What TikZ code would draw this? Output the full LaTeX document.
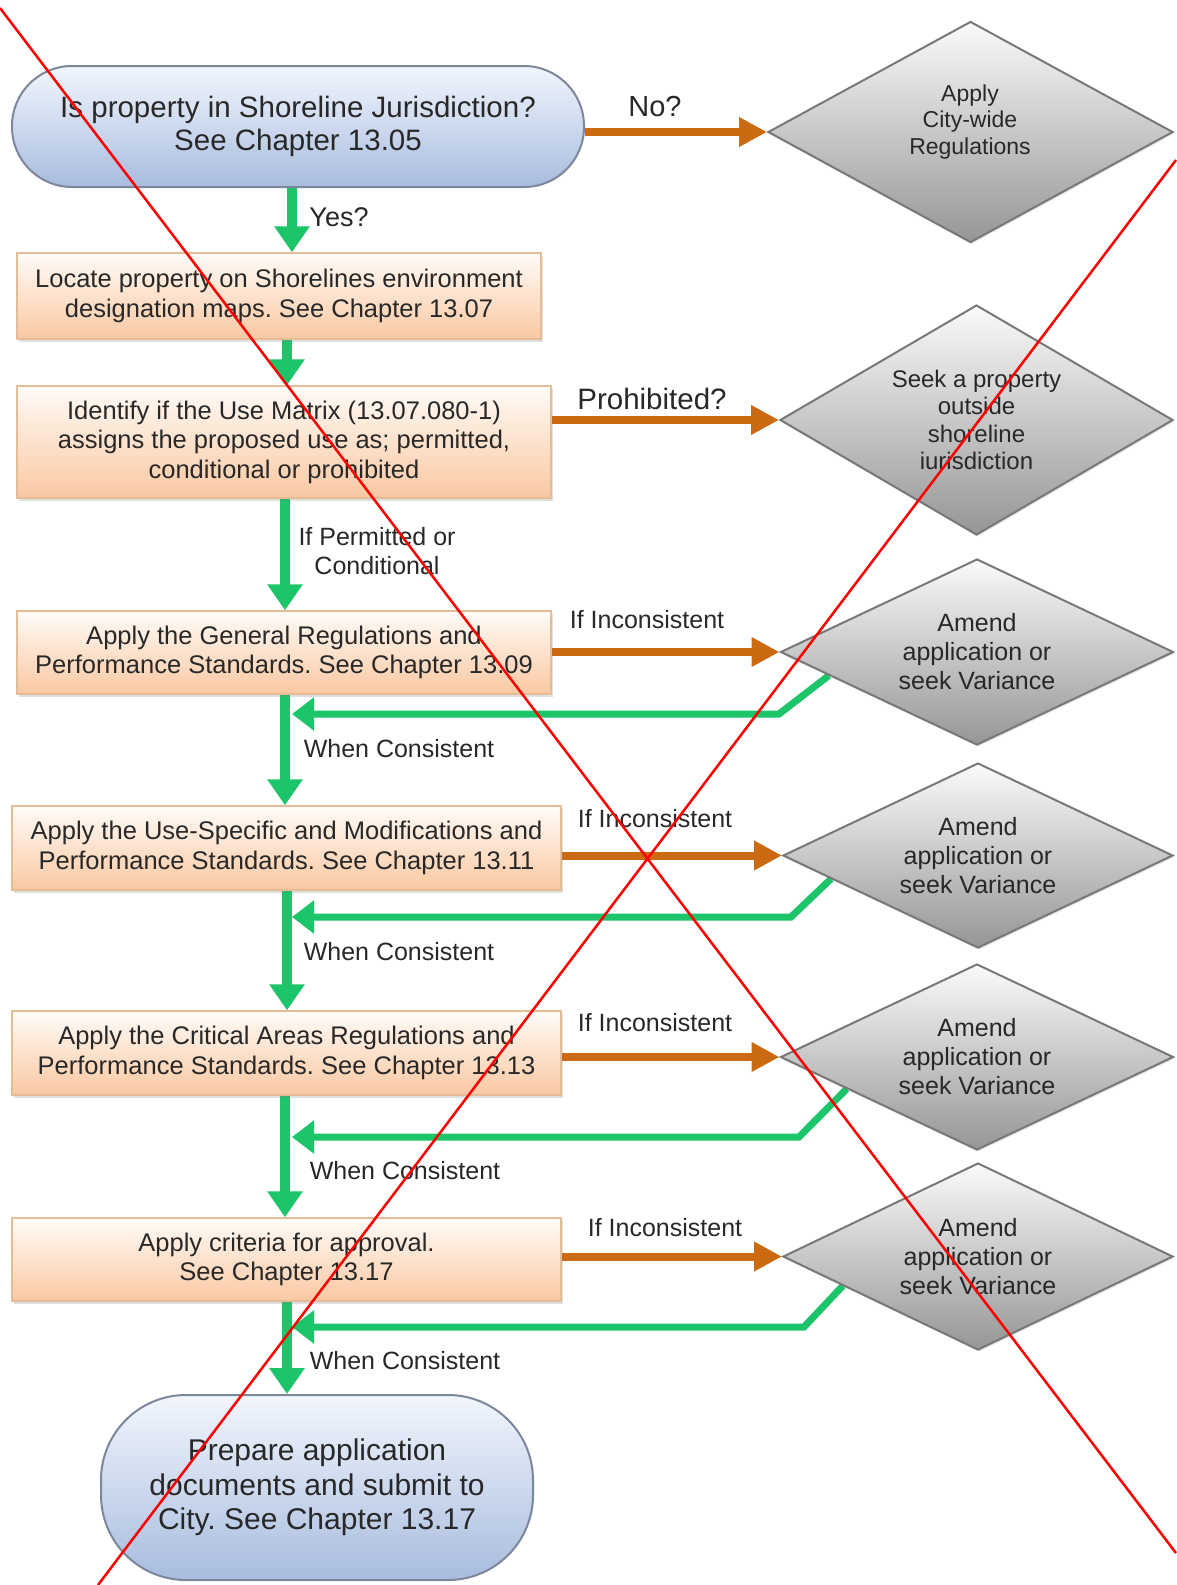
\documentclass[tikz,border=0pt]{standalone}
\usepackage{fontspec}
\setmainfont{Liberation Sans}
\frenchspacing
\usetikzlibrary{shapes.geometric,arrows.meta,calc,shadows}
\definecolor{grn}{RGB}{28,196,106}
\definecolor{org}{RGB}{204,106,18}
\definecolor{txt}{RGB}{40,40,40}
\definecolor{boxtop}{RGB}{255,251,247}
\definecolor{boxbot}{RGB}{250,200,162}
\definecolor{boxdraw}{RGB}{228,188,150}
\definecolor{stadtop}{RGB}{242,246,253}
\definecolor{stadbot}{RGB}{168,188,222}
\definecolor{staddraw}{RGB}{125,135,155}
\definecolor{diatop}{RGB}{250,250,250}
\definecolor{diabot}{RGB}{150,150,150}
\definecolor{diadraw}{RGB}{120,120,120}
\pgfdeclarelayer{bg}
\pgfsetlayers{bg,main}
\tikzset{
  boxnode/.style={rectangle, draw=boxdraw, line width=1.5pt, top color=boxtop, bottom color=boxbot,
    text=txt, align=center, inner sep=0pt, font=\fontsize{25.5}{29.5}\selectfont,
    drop shadow={shadow xshift=2pt, shadow yshift=-3pt, opacity=0.25, fill=black!50}},
  stadnode/.style={rectangle, draw=staddraw, line width=2pt, top color=stadtop, bottom color=stadbot,
    text=txt, align=center, inner sep=0pt},
  dianode/.style={diamond, aspect=2.1, draw=diadraw, line width=2pt, top color=diatop, bottom color=diabot,
    text=txt, align=center, inner sep=0pt, font=\fontsize{25}{29}\selectfont,
    drop shadow={shadow xshift=1pt, shadow yshift=-2pt, opacity=0.2, fill=black!50}},
  lbl/.style={text=txt, align=center, inner sep=0pt, font=\fontsize{25}{29}\selectfont},
  garrow/.style={draw=grn, line width=10pt, -{Triangle[width=34pt,length=26pt]}},
  oarrow/.style={draw=org, line width=8pt, -{Triangle[width=28pt,length=28pt]}},
  gret/.style={draw=grn, line width=7pt, -{Triangle[width=32pt,length=22pt]}},
  redline/.style={draw=red, line width=2.5pt}
}
\begin{document}
\begin{tikzpicture}[x=1pt,y=-1pt]
\useasboundingbox (0,0) rectangle (1176,1585);

% start / end
\node[stadnode, minimum width=572pt, minimum height=121pt, rounded corners=60pt,
  font=\fontsize{29.5}{33}\selectfont] (q1) at (298,126.5)
  {Is property in Shoreline Jurisdiction?\\See Chapter 13.05};
\node[stadnode, minimum width=432pt, minimum height=185pt, rounded corners=85pt,
  font=\fontsize{30}{34.5}\selectfont] (q2) at (317,1487.5)
  {Prepare application\\documents and submit to\\City. See Chapter 13.17};

% boxes
\node[boxnode, minimum width=524pt, minimum height=86pt] (b1) at (279,296)
  {Locate property on Shorelines environment\\designation maps. See Chapter 13.07};
\node[boxnode, minimum width=534pt, minimum height=112pt] (b2) at (284,442)
  {Identify if the Use Matrix (13.07.080-1)\\assigns the proposed use as; permitted,\\conditional or prohibited};
\node[boxnode, minimum width=534pt, minimum height=83pt] (b3) at (284,652.5)
  {Apply the General Regulations and\\Performance Standards. See Chapter 13.09};
\node[boxnode, minimum width=549pt, minimum height=84pt] (b4) at (286.5,848)
  {Apply the Use-Specific and Modifications and\\Performance Standards. See Chapter 13.11};
\node[boxnode, minimum width=549pt, minimum height=84pt] (b5) at (286.5,1053)
  {Apply the Critical Areas Regulations and\\Performance Standards. See Chapter 13.13};
\node[boxnode, minimum width=549pt, minimum height=83pt] (b6) at (286.5,1259.5)
  {Apply criteria for approval.\\See Chapter 13.17};

% diamonds
\node[dianode, aspect=1.83, minimum width=405pt, minimum height=221pt] (d1) at (970.5,132) {};
\node[lbl, font=\fontsize{23}{26.5}\selectfont] (d1t) at (970,122) {Apply\\City-wide\\Regulations};
\node[dianode, aspect=1.7, minimum width=393pt, minimum height=230pt, font=\fontsize{24}{27.5}\selectfont] (d2) at (976.5,420)
  {Seek a property\\outside\\shoreline\\iurisdiction};
\node[dianode, minimum width=393pt, minimum height=186pt] (d3) at (977,652)
  {Amend\\application or\\seek Variance};
\node[dianode, minimum width=390pt, minimum height=185pt] (d4) at (978,855.5)
  {Amend\\application or\\seek Variance};
\node[dianode, minimum width=393pt, minimum height=186pt] (d5) at (977,1057)
  {Amend\\application or\\seek Variance};
\node[dianode, minimum width=390pt, minimum height=187pt] (d6) at (978,1256.5)
  {Amend\\application or\\seek Variance};

% helper coordinates for vertical arrows
\coordinate (x1) at (292,0);
\coordinate (x2) at (287,0);
\coordinate (x3) at (285,0);
\coordinate (x5) at (287,0);
\coordinate (x7) at (287,0);

% return bends and ends
\coordinate (r3b) at (779,714);  \coordinate (r3e) at (292,714);
\coordinate (r4b) at (791,917);  \coordinate (r4e) at (292,917);
\coordinate (r5b) at (799,1137); \coordinate (r5e) at (292,1137);
\coordinate (r6b) at (804,1327); \coordinate (r6e) at (292,1327);

\begin{pgfonlayer}{bg}
\fill[white] (0,0) rectangle (1176,1585);
% green down arrows
\draw[garrow] (q1.south -| x1) -- (b1.north -| x1);
\draw[garrow] (b1.south -| x2) -- (b2.north -| x2);
\draw[garrow] (b2.south -| x3) -- (b3.north -| x3);
\draw[garrow] (b3.south -| x3) -- (b4.north -| x3);
\draw[garrow] (b4.south -| x5) -- (b5.north -| x5);
\draw[garrow] (b5.south -| x3) -- (b6.north -| x3);
\draw[garrow] (b6.south -| x7) -- (q2.north -| x7);

% orange arrows
\draw[oarrow] (q1.east |- d1.west) -- (d1.west);
\draw[oarrow] (b2.east |- d2.west) -- (d2.west);
\draw[oarrow] (b3.east |- d3.west) -- (d3.west);
\draw[oarrow] (b4.east |- d4.west) -- (d4.west);
\draw[oarrow] (b5.east |- d5.west) -- (d5.west);
\draw[oarrow] (b6.east |- d6.west) -- (d6.west);

% green return lines
\draw[gret] ($(d3.west)!0.25!(d3.south)$) -- (r3b) -- (r3e);
\draw[gret] ($(d4.west)!0.25!(d4.south)$) -- (r4b) -- (r4e);
\draw[gret] ($(d5.west)!0.34!(d5.south)$) -- (r5b) -- (r5e);
\draw[gret] ($(d6.west)!0.31!(d6.south)$) -- (r6b) -- (r6e);
\end{pgfonlayer}

% labels
\node[lbl, font=\fontsize{27}{31}\selectfont] (lyes) at (339,217) {Yes?};
\node[lbl, font=\fontsize{29}{33}\selectfont] (lno) at (655,107) {No?};
\node[lbl, font=\fontsize{29.5}{33}\selectfont] (lpro) at (652,399) {Prohibited?};
\node[lbl] (lperm) at (377,551) {If Permitted or\\Conditional};
\node[lbl] (lc3) at (399,749) {When Consistent};
\node[lbl] (lc4) at (399,952) {When Consistent};
\node[lbl] (lc5) at (405,1171) {When Consistent};
\node[lbl] (lc6) at (405,1361) {When Consistent};
\node[lbl] (li3) at (647,620) {If Inconsistent};
\node[lbl] (li4) at (655,819) {If Inconsistent};
\node[lbl] (li5) at (655,1023) {If Inconsistent};
\node[lbl] (li6) at (665,1228) {If Inconsistent};

% red cross
\coordinate (ra1) at (0,8);
\coordinate (ra2) at (1176,1553);
\coordinate (rb1) at (1176,160);
\coordinate (rb2) at (98,1585);
\draw[redline] (ra1) -- (ra2);
\draw[redline] (rb1) -- (rb2);
\end{tikzpicture}
\end{document}
